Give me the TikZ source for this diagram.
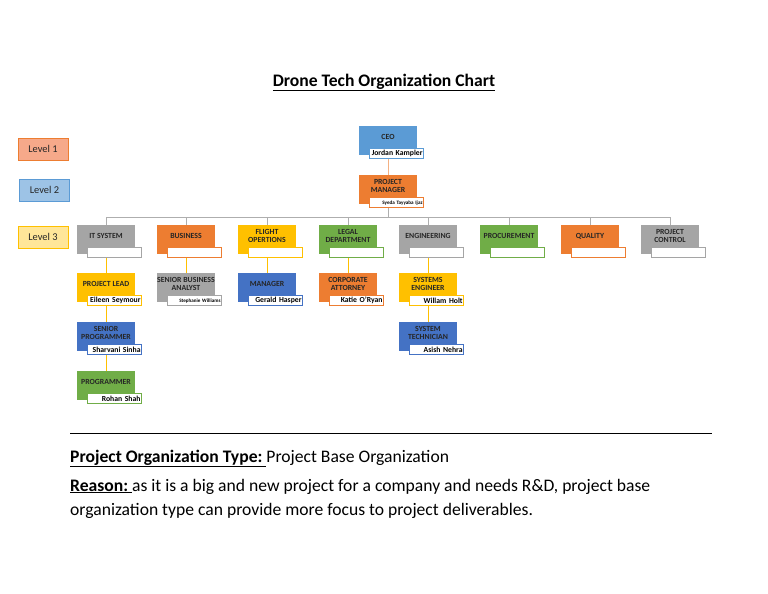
\documentclass[tikz,border=0pt]{standalone}
\usepackage{fontspec}
\setmainfont{Carlito}
\usetikzlibrary{calc,backgrounds}
\definecolor{cgray}{HTML}{A5A5A5}
\definecolor{corange}{HTML}{ED7D31}
\definecolor{cyellow}{HTML}{FFC000}
\definecolor{cgreen}{HTML}{70AD47}
\definecolor{cblue}{HTML}{4472C4}
\definecolor{clblue}{HTML}{5B9BD5}
\definecolor{lvlone}{HTML}{F6A98A}
\definecolor{lvltwo}{HTML}{9DC3E6}
\definecolor{lvlthree}{HTML}{FFE699}
\definecolor{peach}{HTML}{F4B183}
\begin{document}
\begin{tikzpicture}[x=1pt,y=-1pt,
  unit/.style={fill=#1, minimum width=58pt, minimum height=29pt, inner sep=0pt},
  lbl/.style={font=\bfseries\fontsize{7.8}{8.4}\selectfont, align=center, inner sep=0pt, yshift=3.5pt, text=black!85},
  tag/.style={draw=#1, fill=white, line width=0.8pt, minimum width=54pt, minimum height=10pt, text width=51.5pt, align=right, inner xsep=1.25pt, inner ysep=0pt, font=\bfseries\fontsize{7.7}{8}\selectfont, anchor=south east},
  small/.style={font=\bfseries\fontsize{5.1}{5.5}\selectfont},
  lvl/.style={draw=#1, line width=0.6pt, minimum width=50pt, minimum height=22pt, inner sep=0pt, font=\fontsize{10.4}{11}\selectfont, text=black!85},
  bus/.style={draw=cgray!90, line width=0.9pt},
  yel/.style={draw=cyellow, line width=0.9pt},
  body/.style={font=\fontsize{17.6}{20}\selectfont, anchor=base west, inner sep=0pt}
]
\useasboundingbox (0,0) rectangle (768,594);

% title
\node[font=\bfseries\fontsize{17.6}{20}\selectfont, anchor=base, inner sep=0pt] (title) at (384,86) {\underline{Drone Tech Organization Chart}};

% level legend
\node[lvl=corange, fill=lvlone] (l1) at (43,149) {Level 1};
\node[lvl=clblue, fill=lvltwo] (l2) at (44.5,190) {Level 2};
\node[lvl=cyellow, fill=lvlthree] (l3) at (43,237) {Level 3};

% top
\node[unit=clblue, label={[lbl]center:CEO}] (ceo) at (388,140.5) {};
\node[tag=clblue] (ceot) at ($(ceo.south east)+(7,4)$) {Jordan Kampler};
\node[unit=corange, label={[lbl]center:{PROJECT\\MANAGER}}] (pm) at (388,189.5) {};
\node[tag=corange, small] (pmt) at ($(pm.south east)+(7,4)$) {Syeda Tayyaba Ijaz};

% level 3
\node[unit=cgray, label={[lbl]center:IT SYSTEM}] (it) at (106,239.5) {};
\node[tag=cgray] (itt) at ($(it.south east)+(7,4)$) {};
\node[unit=corange, label={[lbl]center:BUSINESS}] (bus) at (186,239.5) {};
\node[tag=corange] (bust) at ($(bus.south east)+(7,4)$) {};
\node[unit=cyellow, label={[lbl]center:{FLIGHT\\OPERTIONS}}] (fl) at (267,239.5) {};
\node[tag=cyellow] (flt) at ($(fl.south east)+(7,4)$) {};
\node[unit=cgreen, label={[lbl]center:{LEGAL\\DEPARTMENT}}] (leg) at (348,239.5) {};
\node[tag=cgreen] (legt) at ($(leg.south east)+(7,4)$) {};
\node[unit=cgray, label={[lbl]center:ENGINEERING}] (eng) at (428,239.5) {};
\node[tag=cgray] (engt) at ($(eng.south east)+(7,4)$) {};
\node[unit=cgreen, label={[lbl]center:PROCUREMENT}] (pro) at (509,239.5) {};
\node[tag=cgreen] (prot) at ($(pro.south east)+(7,4)$) {};
\node[unit=corange, label={[lbl]center:QUALITY}] (qa) at (590,239.5) {};
\node[tag=corange] (qat) at ($(qa.south east)+(7,4)$) {};
\node[unit=cgray, label={[lbl]center:{PROJECT\\CONTROL}}] (pc) at (670,239.5) {};
\node[tag=cgray] (pct) at ($(pc.south east)+(7,4)$) {};

% level 4
\node[unit=cyellow, label={[lbl]center:PROJECT LEAD}] (lead) at (106,287.5) {};
\node[tag=cyellow] (leadt) at ($(lead.south east)+(7,4)$) {Eileen Seymour};
\node[unit=cgray, label={[lbl]center:{SENIOR BUSINESS\\ANALYST}}] (sba) at (186,287.5) {};
\node[tag=cgray, small] (sbat) at ($(sba.south east)+(7,4)$) {Stephanie Williams};
\node[unit=cblue, label={[lbl]center:MANAGER}] (mgr) at (267,287.5) {};
\node[tag=cblue] (mgrt) at ($(mgr.south east)+(7,4)$) {Gerald Hasper};
\node[unit=corange, label={[lbl]center:{CORPORATE\\ATTORNEY}}] (att) at (348,287.5) {};
\node[tag=corange] (attt) at ($(att.south east)+(7,4)$) {Katie O'Ryan};
\node[unit=cyellow, label={[lbl]center:{SYSTEMS\\ENGINEER}}] (se) at (428,287.5) {};
\node[tag=cyellow] (set) at ($(se.south east)+(7,4)$) {Willam Holt};

% level 5
\node[unit=cblue, label={[lbl]center:{SENIOR\\PROGRAMMER}}] (sp) at (106,336.5) {};
\node[tag=cblue] (spt) at ($(sp.south east)+(7,4)$) {Sharvani Sinha};
\node[unit=cblue, label={[lbl]center:{SYSTEM\\TECHNICIAN}}] (st) at (428,336.5) {};
\node[tag=cblue] (stt) at ($(st.south east)+(7,4)$) {Asish Nehra};

% level 6
\node[unit=cgreen, label={[lbl]center:PROGRAMMER}] (prg) at (106,385.5) {};
\node[tag=cgreen] (prgt) at ($(prg.south east)+(7,4)$) {Rohan Shah};

% connectors
\begin{scope}[on background layer]
\fill[white] (0,0) rectangle (768,594);
\coordinate (busy) at (388,217);
\draw[draw=peach, line width=0.9pt] (ceo.south) -- (pm.north);
\draw[bus] (pm.south) -- (busy);
\draw[bus] (busy -| it.north) -- (busy -| pc.north);
\foreach \n in {it,bus,fl,leg,eng,pro,qa,pc} {\draw[bus] (busy -| \n.north) -- (\n.north);}
\draw[yel] (it.south) -- (lead.north);
\draw[yel] (bus.south) -- (sba.north);
\draw[yel] (fl.south) -- (mgr.north);
\draw[yel] (leg.south) -- (att.north);
\draw[yel] (eng.south) -- (se.north);
\draw[yel] (lead.south) -- (sp.north);
\draw[yel] (se.south) -- (st.north);
\draw[yel] (sp.south) -- (prg.north);
\end{scope}

% rule and text
\coordinate (ra) at (70,433);
\coordinate (rb) at (712,433);
\draw[line width=1pt] (ra) -- (rb);
\node[body] (t1) at (70,462) {\textbf{\underline{Project Organization Type:~}}Project Base Organization};
\node[body] (t2) at (70,491) {\textbf{\underline{Reason:~}}as it is a big and new project for a company and needs R\&D, project base};
\node[body] (t3) at (70,515) {organization type can provide more focus to project deliverables.};
\end{tikzpicture}
\end{document}
